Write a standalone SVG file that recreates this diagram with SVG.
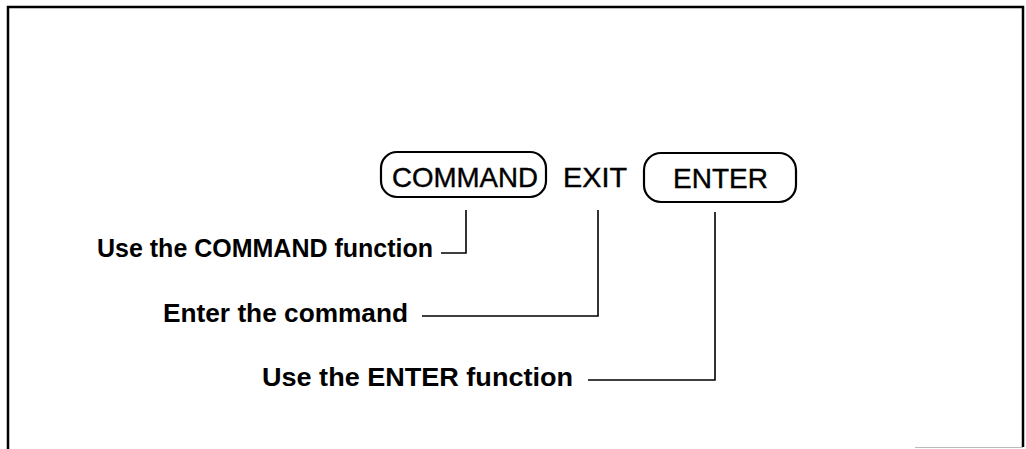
<svg xmlns="http://www.w3.org/2000/svg" width="1026" height="449" viewBox="0 0 1026 449">
<style>
.frame{fill:none;stroke:#000;stroke-width:2.5}
.key{fill:none;stroke:#000;stroke-width:2.2}
.keytext{font-family:"Liberation Sans",Arial,sans-serif;font-size:28px;fill:#000;stroke:#000;stroke-width:0.4}
.label{font-family:"Liberation Sans",Arial,sans-serif;font-size:25px;font-weight:bold;fill:#000}
.conn{fill:none;stroke:#000;stroke-width:1.6}
</style>
<rect width="1026" height="449" fill="#fff"/>
<g id="frame">
<path class="frame" d="M8,449 V7 H1023 V447"/>
<line x1="915" y1="447.5" x2="1023" y2="447.5" stroke="#bbb" stroke-width="1.2"/>
</g>
<g id="key-command">
<rect class="key" x="381" y="152" width="165" height="45" rx="16"/>
<text class="keytext" x="392" y="187" textLength="146" lengthAdjust="spacingAndGlyphs">COMMAND</text>
</g>
<g id="text-exit">
<text class="keytext" x="563" y="187" textLength="64" lengthAdjust="spacingAndGlyphs">EXIT</text>
</g>
<g id="key-enter">
<rect class="key" x="644" y="153" width="152" height="49" rx="17"/>
<text class="keytext" x="673" y="188">ENTER</text>
</g>
<g id="label-command">
<text class="label" x="97" y="257" textLength="336" lengthAdjust="spacingAndGlyphs">Use the COMMAND function</text>
</g>
<g id="label-exit">
<text class="label" x="163" y="322" textLength="245" lengthAdjust="spacingAndGlyphs">Enter the command</text>
</g>
<g id="label-enter">
<text class="label" x="262" y="386" textLength="311" lengthAdjust="spacingAndGlyphs">Use the ENTER function</text>
</g>
<g id="connectors">
<path class="conn" d="M466,210 V253 H441"/>
<path class="conn" d="M598,210 V316 H422"/>
<path class="conn" d="M715,212 V380 H588"/>
</g>
</svg>
